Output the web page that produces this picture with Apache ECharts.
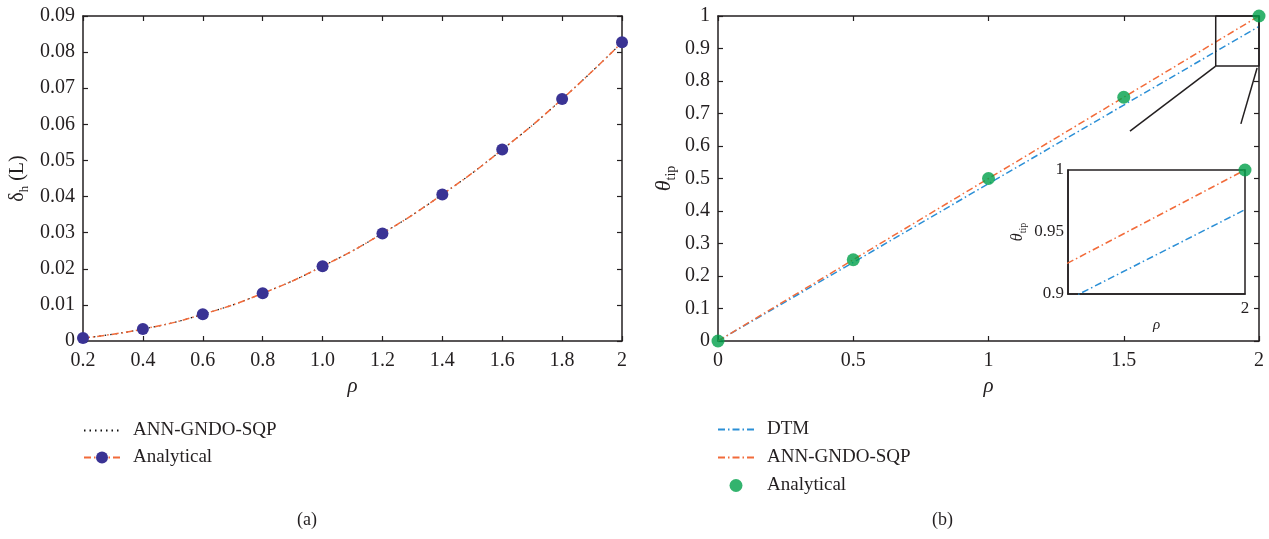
<!DOCTYPE html>
<html>
<head>
<meta charset="utf-8">
<script src="https://cdn.jsdelivr.net/npm/echarts@6/dist/echarts.min.js"></script>
<style>
  html, body { margin: 0; padding: 0; background: #fff; }
  #chart { width: 1269px; height: 539px; }
</style>
</head>
<body>
<div id="chart"></div>
<script>
// (a) tip deflection vs rho
const rhoA = [0.2, 0.4, 0.6, 0.8, 1.0, 1.2, 1.4, 1.6, 1.8, 2.0];
const deltaAnalytical = [0.0008, 0.0033, 0.0074, 0.0132, 0.0207, 0.0298, 0.0406, 0.0530, 0.0670, 0.0827];
const deltaAnn = [0.0008, 0.0033, 0.0074, 0.0132, 0.0207, 0.0298, 0.0406, 0.0530, 0.0670, 0.0827];

// (b) tip rotation vs rho
const rhoB = [0, 0.5, 1.0, 1.5, 2.0];
const thetaDtm = [0, 0.242, 0.484, 0.726, 0.968];
const thetaAnn = [0, 0.25, 0.5, 0.75, 1.0];
const thetaAnalytical = [0, 0.25, 0.5, 0.75, 1.0];

// zoom window drawn on (b) and its leader lines, in data units
const zoomBox = [[1.84, 0.846], [1.84, 1.0], [2.0, 1.0], [2.0, 0.846], [1.84, 0.846]];
const leaderLeft = [[1.84, 0.846], [1.523, 0.646]];
const leaderRight = [[1.993, 0.84], [1.933, 0.668]];

const pairs = (xs, ys) => xs.map((x, i) => [x, ys[i]]);

const INK = '#231f20';
const ORANGE = '#f26b3a';
const BLUE = '#2b8fd6';
const NAVY = '#3a3394';
const GREEN = '#00a04a';
const SERIF = '"Liberation Serif", "DejaVu Serif", serif';
const DASHDOT = [7, 3, 1.5, 3];
const NO_MARK = { color: 'rgba(0,0,0,0)', borderWidth: 0 };

const tickText = { color: INK, fontFamily: SERIF, fontSize: 20 };

function frameAxis(extra) {
  return Object.assign({
    type: 'value',
    splitLine: { show: false },
    axisLine: { show: true, onZero: false, lineStyle: { color: INK, width: 1.5 } },
    axisTick: { show: true, inside: true, length: 5, lineStyle: { color: INK, width: 1.2 } },
    axisLabel: Object.assign({ margin: 8 }, tickText)
  }, extra);
}
function mirrorAxis(extra) {
  return frameAxis(Object.assign({ axisLabel: { show: false } }, extra));
}

const trimNum = v => String(parseFloat(v.toFixed(3)));

const option = {
  animation: false,
  backgroundColor: '#fff',
  grid: [
    { left: 83, top: 16, width: 539, height: 325 },
    { left: 718, top: 16, width: 541, height: 325 },
    { left: 1068, top: 170, width: 177, height: 124, show: true, backgroundColor: '#fff', borderColor: INK, borderWidth: 1.5, z: 5 }
  ],
  xAxis: [
    frameAxis({
      gridIndex: 0, min: 0.2, max: 2, interval: 0.2, position: 'bottom',
      axisLabel: Object.assign({ margin: 10, formatter: v => Math.abs(v - 2) < 1e-9 ? '2' : v.toFixed(1) }, tickText),
      name: 'ρ', nameLocation: 'middle', nameGap: 34,
      nameTextStyle: { fontFamily: SERIF, fontStyle: 'italic', fontSize: 21, color: INK }
    }),
    mirrorAxis({ gridIndex: 0, min: 0.2, max: 2, interval: 0.2, position: 'top' }),
    frameAxis({
      gridIndex: 1, min: 0, max: 2, interval: 0.5, position: 'bottom',
      axisLabel: Object.assign({ margin: 10, formatter: trimNum }, tickText),
      name: 'ρ', nameLocation: 'middle', nameGap: 34,
      nameTextStyle: { fontFamily: SERIF, fontStyle: 'italic', fontSize: 21, color: INK }
    }),
    mirrorAxis({ gridIndex: 1, min: 0, max: 2, interval: 0.5, position: 'top' }),
    {
      type: 'value', gridIndex: 2, min: 1.85, max: 2, position: 'bottom', z: 6,
      splitLine: { show: false },
      axisLine: { show: true, onZero: false, lineStyle: { color: INK, width: 1.5 } },
      axisTick: { show: false },
      axisLabel: { customValues: [2], formatter: v => '2', margin: 6, color: INK, fontFamily: SERIF, fontSize: 17 },
      name: 'ρ', nameLocation: 'middle', nameGap: 13,
      nameTextStyle: { fontFamily: SERIF, fontStyle: 'italic', fontSize: 15, color: INK }
    }
  ],
  yAxis: [
    frameAxis({
      gridIndex: 0, min: 0, max: 0.09, interval: 0.01, position: 'left',
      axisLabel: Object.assign({ margin: 8, formatter: v => v === 0 ? '0' : v.toFixed(2) }, tickText),
      name: '{g|δ}{s|h}{g| (L)}', nameLocation: 'middle', nameRotate: 90, nameGap: 52,
      nameTextStyle: {
        color: INK,
        rich: {
          g: { fontFamily: SERIF, fontSize: 20, lineHeight: 26, color: INK },
          s: { fontFamily: SERIF, fontSize: 13, lineHeight: 14, verticalAlign: 'bottom', color: INK }
        }
      }
    }),
    mirrorAxis({ gridIndex: 0, min: 0, max: 0.09, interval: 0.01, position: 'right' }),
    frameAxis({
      gridIndex: 1, min: 0, max: 1, interval: 0.1, position: 'left',
      axisLabel: Object.assign({ margin: 8, formatter: trimNum }, tickText),
      name: '{g|θ}{s|tip}', nameLocation: 'middle', nameRotate: 90, nameGap: 40,
      nameTextStyle: {
        color: INK,
        rich: {
          g: { fontFamily: SERIF, fontStyle: 'italic', fontSize: 22, lineHeight: 28, color: INK },
          s: { fontFamily: SERIF, fontSize: 14, lineHeight: 15, verticalAlign: 'bottom', color: INK }
        }
      }
    }),
    mirrorAxis({ gridIndex: 1, min: 0, max: 1, interval: 0.1, position: 'right' }),
    {
      type: 'value', gridIndex: 2, min: 0.9, max: 1, interval: 0.05, position: 'left', z: 6,
      splitLine: { show: false },
      axisLine: { show: true, onZero: false, lineStyle: { color: INK, width: 1.5 } },
      axisTick: { show: false },
      axisLabel: { margin: 4, color: INK, fontFamily: SERIF, fontSize: 17, formatter: trimNum },
      name: '{g|θ}{s|tip}', nameLocation: 'middle', nameRotate: 90, nameGap: 40,
      nameTextStyle: {
        color: INK,
        rich: {
          g: { fontFamily: SERIF, fontStyle: 'italic', fontSize: 16, lineHeight: 20, color: INK },
          s: { fontFamily: SERIF, fontSize: 10, lineHeight: 11, verticalAlign: 'bottom', color: INK }
        }
      }
    }
  ],
  legend: [
    {
      orient: 'vertical', left: 78, top: 416, itemWidth: 36, itemHeight: 15, itemGap: 8,
      data: [
        { name: 'ANN-GNDO-SQP', itemStyle: NO_MARK },
        { name: 'Analytical' }
      ],
      textStyle: { fontFamily: SERIF, fontSize: 19, color: INK, padding: [0, 0, 0, 8] },
      selectedMode: false
    },
    {
      orient: 'vertical', left: 712, top: 415, itemWidth: 36, itemHeight: 13, itemGap: 9,
      data: [
        { name: 'DTM ', itemStyle: NO_MARK },
        { name: 'ANN-GNDO-SQP ', itemStyle: NO_MARK },
        { name: 'Analytical ' }
      ],
      formatter: name => name.trim(),
      textStyle: { fontFamily: SERIF, fontSize: 19, color: INK, padding: [0, 0, 0, 8] },
      selectedMode: false
    }
  ],
  graphic: [
    { type: 'text', left: 297, top: 511, style: { text: '(a)', font: '18px ' + SERIF, fill: INK } },
    { type: 'text', left: 932, top: 511, style: { text: '(b)', font: '18px ' + SERIF, fill: INK } }
  ],
  series: [
    // (a)
    {
      name: 'ANN-GNDO-SQP', type: 'line', xAxisIndex: 0, yAxisIndex: 0,
      data: pairs(rhoA, deltaAnn), symbol: 'none', smooth: true,
      lineStyle: { color: '#111', width: 1.2, type: [1.5, 4] }, itemStyle: { color: '#111' }, z: 2
    },
    {
      name: 'Analytical', type: 'line', xAxisIndex: 0, yAxisIndex: 0,
      data: pairs(rhoA, deltaAnalytical), smooth: true,
      symbol: 'circle', symbolSize: 12, showAllSymbol: true,
      lineStyle: { color: ORANGE, width: 1.5, type: DASHDOT },
      itemStyle: { color: NAVY }, z: 3
    },
    // (b)
    {
      name: 'DTM ', type: 'line', xAxisIndex: 2, yAxisIndex: 2,
      data: pairs(rhoB, thetaDtm), symbol: 'none',
      lineStyle: { color: BLUE, width: 1.5, type: DASHDOT }, itemStyle: { color: BLUE }, z: 2
    },
    {
      name: 'ANN-GNDO-SQP ', type: 'line', xAxisIndex: 2, yAxisIndex: 2,
      data: pairs(rhoB, thetaAnn), symbol: 'none',
      lineStyle: { color: ORANGE, width: 1.5, type: DASHDOT }, itemStyle: { color: ORANGE }, z: 3
    },
    {
      name: 'Analytical ', type: 'scatter', xAxisIndex: 2, yAxisIndex: 2,
      data: pairs(rhoB, thetaAnalytical), symbol: 'circle', symbolSize: 13,
      itemStyle: { color: GREEN }, z: 4
    },
    {
      type: 'line', xAxisIndex: 2, yAxisIndex: 2, data: zoomBox, symbol: 'none', silent: true,
      lineStyle: { color: INK, width: 1.5 }, z: 3, clip: false
    },
    {
      type: 'line', xAxisIndex: 2, yAxisIndex: 2, data: leaderLeft, symbol: 'none', silent: true,
      lineStyle: { color: INK, width: 1.5 }, z: 3, clip: false
    },
    {
      type: 'line', xAxisIndex: 2, yAxisIndex: 2, data: leaderRight, symbol: 'none', silent: true,
      lineStyle: { color: INK, width: 1.5 }, z: 3, clip: false
    },
    // inset of (b)
    {
      name: 'DTM ', type: 'line', xAxisIndex: 4, yAxisIndex: 4,
      data: pairs(rhoB, thetaDtm), symbol: 'none', clip: true,
      lineStyle: { color: BLUE, width: 1.5, type: DASHDOT }, itemStyle: { color: BLUE }, z: 7
    },
    {
      name: 'ANN-GNDO-SQP ', type: 'line', xAxisIndex: 4, yAxisIndex: 4,
      data: pairs(rhoB, thetaAnn), symbol: 'none', clip: true,
      lineStyle: { color: ORANGE, width: 1.5, type: DASHDOT }, itemStyle: { color: ORANGE }, z: 7
    },
    {
      name: 'Analytical ', type: 'scatter', xAxisIndex: 4, yAxisIndex: 4,
      data: pairs(rhoB, thetaAnalytical).filter(p => p[0] >= 1.85), symbol: 'circle', symbolSize: 13,
      clip: false, itemStyle: { color: GREEN }, z: 8
    }
  ]
};

const chart = echarts.init(document.getElementById('chart'), null, { renderer: 'canvas' });
chart.setOption(option);
</script>
</body>
</html>
